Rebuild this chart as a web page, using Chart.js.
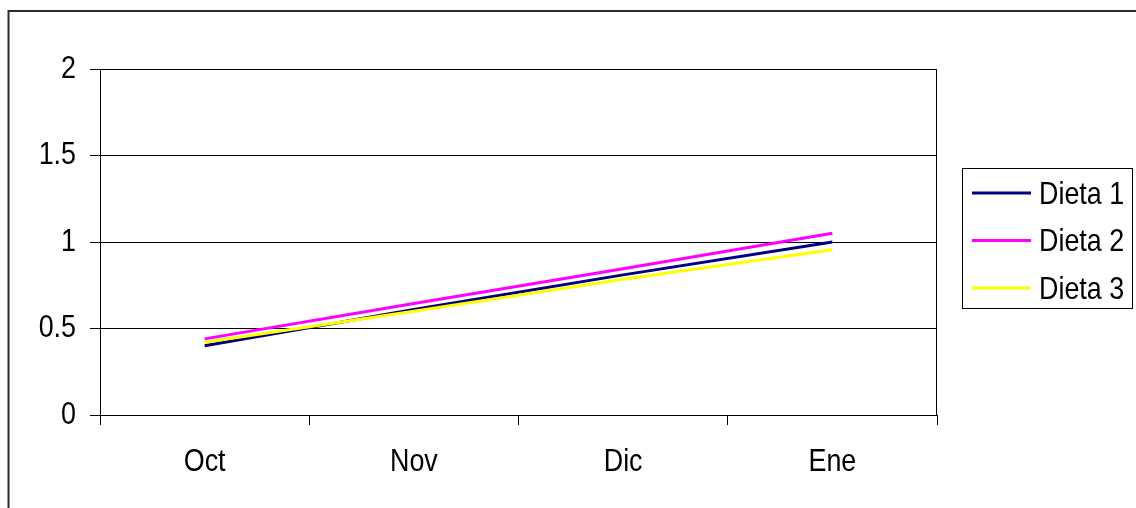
<!DOCTYPE html>
<html>
<head>
<meta charset="utf-8">
<script src="https://cdn.jsdelivr.net/npm/chart.js@4/dist/chart.umd.min.js"></script>
<style>
  html, body { margin: 0; padding: 0; background: #fff; overflow: hidden; }
  canvas { display: block; }
</style>
</head>
<body>
<canvas id="c" width="1136" height="508"></canvas>
<script>
// Monthly values for the three diets
const months = ['Oct', 'Nov', 'Dic', 'Ene'];
const dieta1 = [0.40, 0.61, 0.81, 1.00];
const dieta2 = [0.44, 0.645, 0.845, 1.05];
const dieta3 = [0.42, 0.60, 0.785, 0.955];
const seriesNames = ['Dieta 1', 'Dieta 2', 'Dieta 3'];
const seriesColors = ['#000080', '#ff00ff', '#ffff00'];
const yTicks = [0, 0.5, 1, 1.5, 2];

// Text is drawn tall and slightly condensed
const FONT_FAMILY = '"Liberation Sans", Arial, sans-serif';
const FONT_SIZE = 32;
const TEXT_SQUEEZE = 0.84;

function drawText(ctx, text, x, y, align) {
  ctx.save();
  ctx.translate(x, y);
  ctx.scale(TEXT_SQUEEZE, 1);
  ctx.font = FONT_SIZE + 'px ' + FONT_FAMILY;
  ctx.textAlign = align;
  ctx.textBaseline = 'middle';
  ctx.fillStyle = '#000';
  ctx.fillText(text, 0, 0);
  ctx.restore();
}

// Outer frame, plot-area border, axis labels and boxed legend
const framePlugin = {
  id: 'frame',
  beforeDatasetsDraw(chart) {
    const { ctx, chartArea: a } = chart;
    ctx.save();
    ctx.strokeStyle = '#000';
    ctx.lineWidth = 1;
    ctx.strokeRect(Math.round(a.left) + 0.5, Math.round(a.top) + 0.5,
                   Math.round(a.right - a.left) - 1, Math.round(a.bottom - a.top));
    ctx.restore();
  },
  afterDraw(chart) {
    const { ctx } = chart;
    const xs = chart.scales.x, ys = chart.scales.y;

    // axis tick labels, placed by the scales
    ys.ticks.forEach((t, i) => {
      drawText(ctx, String(t.value), ys.right - 24, ys.getPixelForTick(i), 'right');
    });
    xs.ticks.forEach((t, i) => {
      drawText(ctx, xs.getLabelForValue(t.value), xs.getPixelForTick(i), xs.top + 47, 'center');
    });

    ctx.save();
    // outer chart frame
    ctx.strokeStyle = '#2b2b2b';
    ctx.lineWidth = 2;
    ctx.beginPath();
    ctx.moveTo(8.5, 508);
    ctx.lineTo(8.5, 11);
    ctx.lineTo(1136, 11);
    ctx.stroke();

    // legend box
    const bx = 962, by = 168, bw = 170, bh = 140;
    ctx.lineWidth = 1;
    ctx.strokeStyle = '#000';
    ctx.strokeRect(bx + 0.5, by + 0.5, bw, bh);
    chart.data.datasets.forEach((ds, i) => {
      const y = by + 25 + i * 47.5;
      ctx.strokeStyle = ds.borderColor;
      ctx.lineWidth = 3;
      ctx.beginPath();
      ctx.moveTo(bx + 10, y);
      ctx.lineTo(bx + 69, y);
      ctx.stroke();
      drawText(ctx, ds.label, bx + 77, y + 2, 'left');
    });
    ctx.restore();
  }
};

const seriesData = [dieta1, dieta2, dieta3];

new Chart(document.getElementById('c'), {
  type: 'line',
  data: {
    labels: months,
    datasets: seriesData.map((vals, i) => ({
      label: seriesNames[i],
      data: vals,
      borderColor: seriesColors[i],
      backgroundColor: seriesColors[i],
      borderWidth: 3,
      pointRadius: 0,
      tension: 0,
      fill: false,
      order: 3 - i
    }))
  },
  options: {
    responsive: false,
    animation: false,
    layout: { padding: { left: 0, top: 69, right: 199, bottom: 0 } },
    plugins: {
      legend: { display: false },
      tooltip: { enabled: false }
    },
    scales: {
      x: {
        type: 'category',
        offset: true,
        grid: {
          offset: true,
          drawOnChartArea: false,
          drawTicks: true,
          tickLength: 10,
          color: '#000',
          lineWidth: 1
        },
        border: { display: true, color: '#000', width: 1 },
        ticks: { display: false },
        afterFit(s) { s.height = 93; }
      },
      y: {
        min: 0,
        max: 2,
        afterBuildTicks(s) { s.ticks = yTicks.map(v => ({ value: v })); },
        grid: { color: '#000', lineWidth: 1, tickLength: 10 },
        border: { display: true, color: '#000', width: 1 },
        ticks: { display: false },
        afterFit(s) { s.width = 100; }
      }
    }
  },
  plugins: [framePlugin]
});
</script>
</body>
</html>
